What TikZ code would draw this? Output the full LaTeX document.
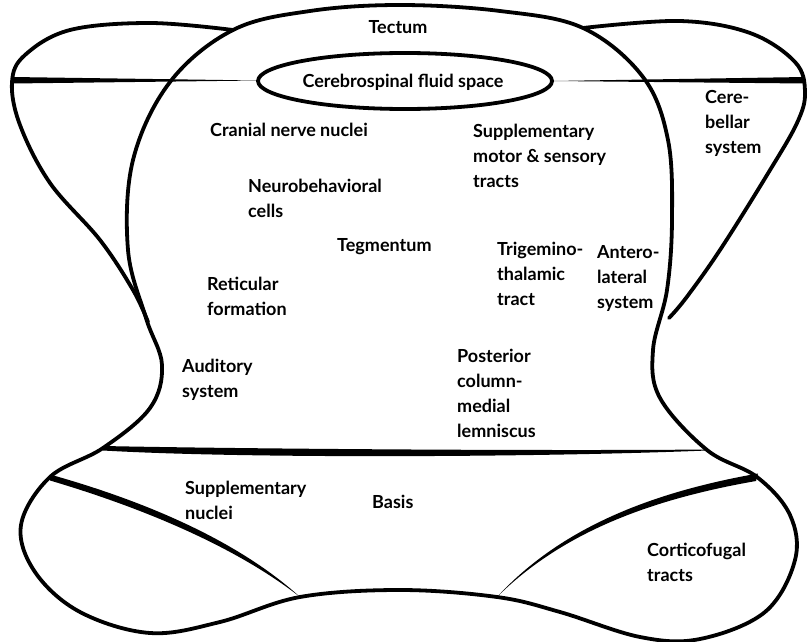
\documentclass[tikz,border=0pt]{standalone}
\usepackage{fontspec}
\usepackage{tikz}
\newfontfamily\lato{Lato}

\begin{document}
\begin{tikzpicture}[x=1pt,y=-1pt]
\tikzset{wall/.style={line width=3.8pt,line join=round,line cap=round},
  lbl/.style={font=\lato\bfseries\fontsize{18}{25}\selectfont,align=left,inner sep=0pt,anchor=west}}
\useasboundingbox (0,0) rectangle (809,642);

% brain stem outline
\draw[wall] plot[smooth cycle,tension=0.6] coordinates {
  (400,5) (500,11) (583,28) (643,77) (668,140) (672,220) (667,290)
  (653,350) (660,398) (707,450) (757,477) (790,515) (795,560) (765,612)
  (700,639) (640,637) (560,612) (497,597) (400,590) (300,597) (220,622)
  (150,633) (80,612) (35,572) (21,525) (50,477) (103,448) (150,408)
  (162,365) (146,318) (128,250) (133,160) (170,82) (233,30) (310,11)};

% cerebellar lobes
\draw[wall] plot[smooth,tension=0.6] coordinates {
  (233,30) (150,23) (70,30) (25,55) (12,82) (20,125) (50,183)
  (100,240) (133,290) (148,322)};
\draw[wall] plot[smooth,tension=0.6] coordinates {
  (583,28) (680,21) (750,33) (795,62) (805,92) (797,123) (767,175)
  (720,250) (686,298) (669,318)};

% fluid space
\draw[wall] (405,81) ellipse (147 and 28);

% tapered dividing lines
\fill (12,77) -- (258,80.5) -- (12,83.5) -- cycle;
\fill (553,81) -- (805,77) -- (805,83.5) -- cycle;
\fill (103,446) .. controls (250,449) and (550,451) .. (707,449.5)
  -- (707,450.5) .. controls (550,457) and (250,459) .. (103,450.5) -- cycle;
\fill (50,474.5) .. controls (150,502.5) and (240,542.5) .. (300,597)
  .. controls (238,548.5) and (148,509.5) .. (50,480.5) -- cycle;
\fill (758,473.5) .. controls (650,492.5) and (560,528.5) .. (497,597)
  .. controls (562,532.5) and (650,499.5) .. (756,481) -- cycle;

% labels
\node[lbl,anchor=center] (tectum) at (398,27) {Tectum};
\node[lbl,anchor=center] (csf) at (403,82) {Cerebrospinal fluid space};
\node[lbl] (cranial) at (210,130) {Cranial nerve nuclei};
\node[lbl] (suppmotor) at (473,156) {Supplementary\\motor \& sensory\\tracts};
\node[lbl] (cereb) at (705,123) {Cere-\\bellar\\system};
\node[lbl] (neurobeh) at (248,198) {Neurobehavioral\\cells};
\node[lbl] (tegm) at (337,247) {Tegmentum};
\node[lbl] (trigem) at (497,274) {Trigemino-\\thalamic\\tract};
\node[lbl] (antero) at (597,278) {Antero-\\lateral\\system};
\node[lbl] (retic) at (207,296) {Reticular\\formation};
\node[lbl] (audit) at (182,380) {Auditory\\system};
\node[lbl] (postcol) at (457,393) {Posterior\\column-\\medial\\lemniscus};
\node[lbl] (suppnuc) at (185,500) {Supplementary\\nuclei};
\node[lbl] (basis) at (372,502) {Basis};
\node[lbl] (cortico) at (647,562) {Corticofugal\\tracts};
\end{tikzpicture}
\end{document}
